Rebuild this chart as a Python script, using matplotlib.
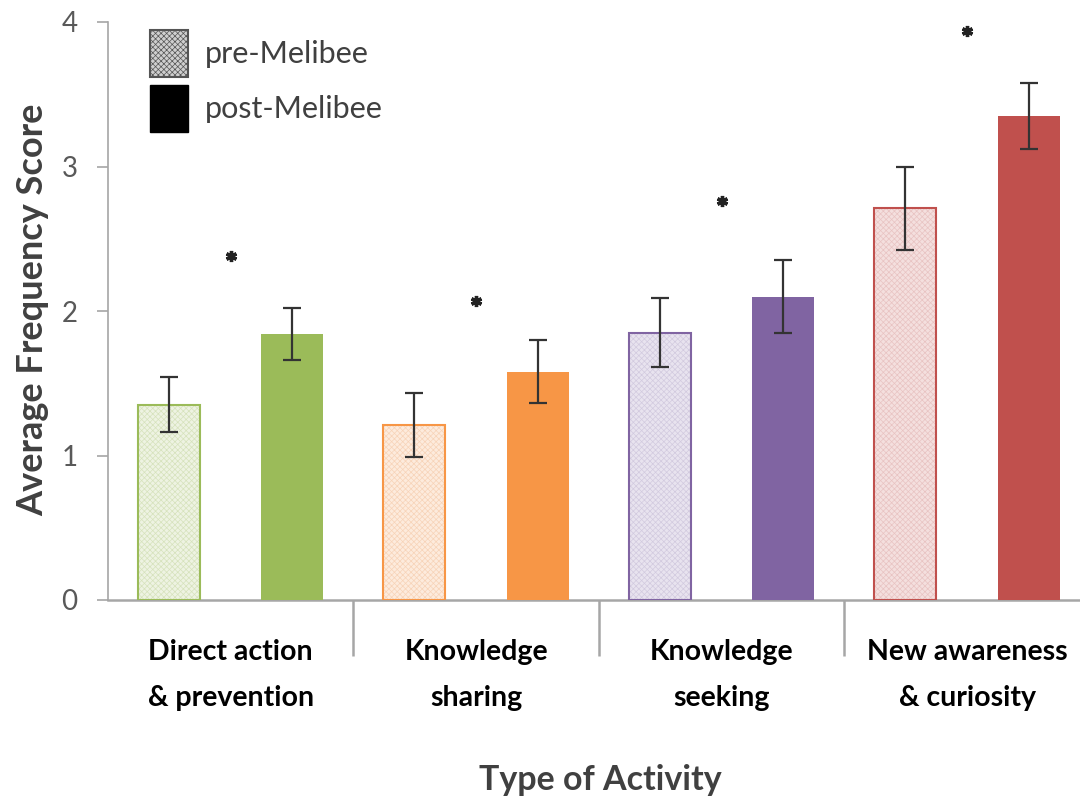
import matplotlib
matplotlib.use("Agg")
import matplotlib.pyplot as plt
from matplotlib.patches import Patch
import numpy as np

plt.rcParams['font.family'] = ['Lato', 'DejaVu Sans']
plt.rcParams['hatch.linewidth'] = 0.5

categories = ["Direct action\n& prevention", "Knowledge\nsharing",
              "Knowledge\nseeking", "New awareness\n& curiosity"]
pre_values = [1.35, 1.21, 1.85, 2.71]
pre_errors = [0.19, 0.22, 0.24, 0.29]
post_values = [1.84, 1.58, 2.10, 3.35]
post_errors = [0.18, 0.22, 0.25, 0.23]
star_heights = [2.38, 2.07, 2.76, 3.94]
y_ticks = [0, 1, 2, 3, 4]

post_colors = ["#9BBB59", "#F79646", "#8064A2", "#C0504D"]
pre_colors = ["#EEF3E2", "#FDEBDD", "#E8E3EF", "#F4DFDE"]
pre_hatch = ["#D6E2BC", "#F7D3B8", "#D2CADF", "#E8C3C2"]

fig = plt.figure(figsize=(10.8, 8), dpi=100)
ax = fig.add_axes([0.1, 0.25, 0.909, 0.7225])

x = np.arange(len(categories))
offset = 0.2515
width = 0.2525
err_kw = dict(ecolor="#333333", elinewidth=1.6, capsize=6.5, capthick=1.6)

for i in range(len(categories)):
    # pre bars: pale fill with a fine hatch, outlined in the series colour
    ax.bar(x[i] - offset, pre_values[i], width, color=pre_colors[i],
           edgecolor=pre_hatch[i], hatch="xxxxxx", linewidth=0, zorder=2)
    ax.bar(x[i] - offset, pre_values[i], width, fill=False,
           edgecolor=post_colors[i], linewidth=1.5, zorder=3,
           yerr=pre_errors[i], error_kw=err_kw)
    ax.bar(x[i] + offset, post_values[i], width, color=post_colors[i],
           linewidth=0, zorder=3, yerr=post_errors[i], error_kw=err_kw)

# significance markers
ax.plot(x, star_heights, linestyle="none", marker=(6, 2, 0), markersize=8,
        markeredgewidth=2.4, color="#222222", zorder=4)

ax.set_xlim(-0.5, 3.5)
ax.set_ylim(0, 4)
ax.set_yticks(y_ticks)
ax.set_yticklabels([str(t) for t in y_ticks], fontsize=20, color="#595959")
ax.tick_params(axis="y", direction="out", length=8, width=1.2,
               color="#A6A6A6", pad=14)

ax.set_xticks(x)
ax.set_xticklabels(categories, fontsize=20.5, fontweight="bold",
                   color="black", linespacing=1.95)
ax.tick_params(axis="x", which="major", length=0, pad=28)
ax.set_xticks([0.5, 1.5, 2.5], minor=True)
ax.tick_params(axis="x", which="minor", direction="out", length=40,
               width=1.8, color="#A6A6A6")

for side in ("top", "right"):
    ax.spines[side].set_visible(False)
ax.spines["left"].set_color("#A6A6A6")
ax.spines["left"].set_linewidth(1.2)
ax.spines["bottom"].set_color("#A6A6A6")
ax.spines["bottom"].set_linewidth(1.8)

fig.text(33 / 1080, 1 - 310 / 800, "Average Frequency Score", rotation=90,
         ha="center", va="center", fontsize=26, fontweight="bold",
         color="#404040")
fig.text(600 / 1080, 1 - 780 / 800, "Type of Activity", ha="center",
         va="center", fontsize=24.5, fontweight="bold", color="#404040")

# legend with greyscale swatches
handles = [Patch(facecolor="#CFCFCF", edgecolor="#555555", hatch="xxxxxx",
                 linewidth=1.5, label="pre-Melibee"),
           Patch(facecolor="#000000", edgecolor="#000000",
                 label="post-Melibee")]
ax.legend(handles=handles, loc="upper left",
          bbox_to_anchor=(150 / 1080, 1 - 30 / 800),
          bbox_transform=fig.transFigure, borderpad=0, borderaxespad=0,
          frameon=False, fontsize=22, handlelength=1.25, handleheight=2.0,
          handletextpad=0.56, labelspacing=0.25, labelcolor="#404040")

fig.savefig("out.png", dpi=100, facecolor="white")
